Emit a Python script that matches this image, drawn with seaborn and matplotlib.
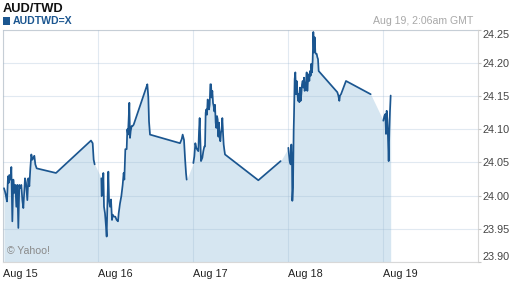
import numpy as np
import pandas as pd
import matplotlib
matplotlib.use("Agg")
import matplotlib.pyplot as plt
import seaborn as sns
from matplotlib.patches import Rectangle

# ---------------- data ----------------
title = "AUD/TWD"
symbol = "AUDTWD=X"
timestamp = "Aug 19, 2:06am GMT"
credit = "\u00a9 Yahoo!"
day_ticks = [0, 1, 2, 3, 4]
day_labels = ["Aug 15", "Aug 16", "Aug 17", "Aug 18", "Aug 19"]
y_ticks = [23.90, 23.95, 24.00, 24.05, 24.10, 24.15, 24.20, 24.25]

# x in days since Aug 15 00:00, rate in TWD per AUD; each segment is a run of quotes
seg1_day = [0.0137, 0.0242, 0.0347, 0.0453, 0.0558, 0.0628, 0.0698, 0.0839, 0.0909, 0.1014,
            0.1119, 0.1225, 0.1330, 0.1435, 0.1540, 0.1646, 0.1751, 0.1856, 0.1961, 0.2067,
            0.2172, 0.2242, 0.2347, 0.2453, 0.2593, 0.2698, 0.2804, 0.2909, 0.3014, 0.3119,
            0.3225, 0.3330, 0.3435, 0.3575, 0.5611, 0.9295, 0.9470, 0.9575, 0.9681]
seg1_rate = [24.011, 24.006, 23.999, 23.991, 24.029, 24.019, 24.031, 24.024, 24.043, 23.961,
             24.024, 24.004, 24.016, 23.983, 24.016, 23.951, 24.016, 24.011, 24.016, 23.993,
             23.981, 23.999, 24.026, 24.019, 23.993, 24.026, 24.014, 24.041, 24.062, 24.054,
             24.057, 24.060, 24.047, 24.041, 24.034, 24.083, 24.079, 24.054, 24.047]

seg2_day = [1.0382, 1.0418, 1.0523, 1.0593, 1.0663, 1.0768, 1.0874, 1.0944, 1.1014, 1.1119,
            1.1189, 1.1295, 1.1400, 1.1505, 1.1575, 1.1716, 1.1856, 1.1996, 1.2137, 1.2207,
            1.2347, 1.2488, 1.2628, 1.2733, 1.2804, 1.2909, 1.3049, 1.3119, 1.3189, 1.3259,
            1.3330, 1.3400, 1.3470, 1.3575, 1.3681, 1.3786, 1.5154, 1.5225, 1.5330, 1.5400,
            1.5505, 1.8663, 1.8839, 1.8944, 1.9084, 1.9189, 1.9295, 1.9365]
seg2_rate = [24.026, 23.999, 24.004, 24.034, 23.983, 23.973, 23.953, 23.938, 23.983, 24.036,
             23.994, 23.983, 23.994, 23.963, 23.971, 23.968, 23.968, 23.963, 23.961, 23.973,
             23.988, 23.999, 24.016, 24.034, 24.024, 24.070, 24.070, 24.100, 24.092, 24.115,
             24.140, 24.087, 24.097, 24.105, 24.105, 24.107, 24.165, 24.168, 24.148, 24.112,
             24.092, 24.079, 24.085, 24.092, 24.084, 24.057, 24.034, 24.024]

seg3_day = [2.0067, 2.0172, 2.0277, 2.0382, 2.0488, 2.0593, 2.0663, 2.0733, 2.0803, 2.0874,
            2.1014, 2.1119, 2.1225, 2.1295, 2.1365, 2.1435, 2.1505, 2.1575, 2.1646, 2.1716,
            2.1786, 2.1856, 2.1926, 2.1996, 2.2067, 2.2137, 2.2207, 2.2277, 2.2347, 2.2418,
            2.2488, 2.2558, 2.2628, 2.2698, 2.2768, 2.2839, 2.2909, 2.2979, 2.3049, 2.3119,
            2.3189, 2.3260, 2.3330, 2.3400, 2.6909, 2.9260]
seg3_rate = [24.049, 24.059, 24.079, 24.072, 24.069, 24.067, 24.097, 24.117, 24.084, 24.052,
             24.057, 24.067, 24.074, 24.074, 24.125, 24.130, 24.122, 24.145, 24.140, 24.130,
             24.137, 24.168, 24.168, 24.148, 24.158, 24.140, 24.135, 24.127, 24.137, 24.110,
             24.102, 24.120, 24.115, 24.089, 24.110, 24.087, 24.082, 24.095, 24.100, 24.117,
             24.095, 24.077, 24.069, 24.062, 24.023, 24.052]

seg4_day = [3.0066, 3.0137, 3.0207, 3.0312, 3.0382, 3.0453, 3.0488, 3.0558, 3.0628, 3.0663,
            3.0733, 3.0804, 3.0874, 3.0944, 3.1014, 3.1084, 3.1154, 3.1225, 3.1295, 3.1365,
            3.1435, 3.1505, 3.1575, 3.1646, 3.1716, 3.1786, 3.1856, 3.1926, 3.1996, 3.2067,
            3.2137, 3.2207, 3.2277, 3.2347, 3.2418, 3.2488, 3.2558, 3.2628, 3.2698, 3.2768,
            3.2839, 3.2909, 3.2979, 3.3049, 3.3119, 3.3189, 3.3260, 3.5225, 3.5330, 3.5435,
            3.5505, 3.5611, 3.6137, 3.8733]
seg4_rate = [24.072, 24.062, 24.052, 24.047, 24.077, 24.052, 23.992, 24.012, 24.098, 24.120,
             24.176, 24.186, 24.153, 24.173, 24.158, 24.143, 24.153, 24.141, 24.163, 24.143,
             24.153, 24.168, 24.173, 24.163, 24.178, 24.158, 24.166, 24.171, 24.186, 24.158,
             24.173, 24.183, 24.173, 24.188, 24.181, 24.199, 24.186, 24.204, 24.247, 24.216,
             24.239, 24.216, 24.214, 24.214, 24.209, 24.206, 24.188, 24.156, 24.151, 24.143,
             24.151, 24.153, 24.173, 24.153]

seg5_day = [4.0067, 4.0172, 4.0277, 4.0347, 4.0418, 4.0488, 4.0558, 4.0628, 4.0698, 4.0768,
            4.0839]
seg5_rate = [24.113, 24.120, 24.123, 24.093, 24.128, 24.115, 24.087, 24.052, 24.098, 24.128,
             24.151]

# ---------------- styling ----------------
LINE = "#1b5690"
FILL = "#d6e6f1"
GRID = "#9db8d3"
SPINE = "#d8d8d8"

sns.set_style("white")
plt.rcParams["font.family"] = ["Liberation Sans", "DejaVu Sans"]

segs = [(seg1_day, seg1_rate), (seg2_day, seg2_rate), (seg3_day, seg3_rate),
        (seg4_day, seg4_rate), (seg5_day, seg5_rate)]
df = pd.concat([pd.DataFrame({"day": d, "rate": r, "seg": i})
                for i, (d, r) in enumerate(segs)], ignore_index=True)

W, H = 512, 288
fig = plt.figure(figsize=(W / 100, H / 100), dpi=100)
left, right, top, bottom = 2.7, 477.7, 30.0, 261.7
ax = fig.add_axes([left / W, 1 - bottom / H, (right - left) / W, (bottom - top) / H])

ax.fill_between(df["day"], df["rate"], y_ticks[0], color=FILL, lw=0, zorder=1)
sns.lineplot(data=df, x="day", y="rate", units="seg", estimator=None, sort=True,
             color=LINE, lw=1.25, ax=ax, legend=False, zorder=3)

ax.set_xlim(0, 5)
ax.set_ylim(y_ticks[0], y_ticks[-1])
ax.set_xlabel("")
ax.set_ylabel("")

ax.set_axisbelow(False)
ax.grid(True, color=GRID, lw=0.8, alpha=0.3)

ax.set_xticks(day_ticks)
ax.set_xticklabels(day_labels, ha="left")
ax.yaxis.tick_right()
ax.set_yticks(y_ticks)
ax.set_yticklabels([f"{v:.2f}" for v in y_ticks])
ax.tick_params(axis="x", length=3, width=0.8, color="#c8c8c8", pad=2,
               labelsize=7.8, labelcolor="#222222")
ax.tick_params(axis="y", length=2, width=0.8, color="#c8c8c8", pad=1.6,
               labelsize=7.8, labelcolor="#444444")
ylabs = ax.get_yticklabels()
ylabs[0].set_va("bottom")
ylabs[-1].set_va("top")

for s in ax.spines.values():
    s.set_color(SPINE)
    s.set_linewidth(0.8)

# header texts
fig.text(2.7 / W, 1 - 8.5 / H, title, fontsize=9.3, fontweight="bold",
         color="#111111", va="center", ha="left")
fig.patches.append(Rectangle((2.7 / W, 1 - 25 / H), 7.5 / W, 8.3 / H,
                             transform=fig.transFigure, color=LINE, lw=0))
fig.text(13 / W, 1 - 20.8 / H, symbol, fontsize=7.6, fontweight="bold",
         color=LINE, va="center", ha="left")
fig.text(473 / W, 1 - 20.8 / H, timestamp, fontsize=7.6, color="#a8a8a8",
         va="center", ha="right")
ax.text(6.7 / W, 1 - 251.5 / H, credit, transform=fig.transFigure, fontsize=7.6,
        color="#8a8a8a", va="center", ha="left", zorder=4)

fig.savefig("out.png", dpi=100)
